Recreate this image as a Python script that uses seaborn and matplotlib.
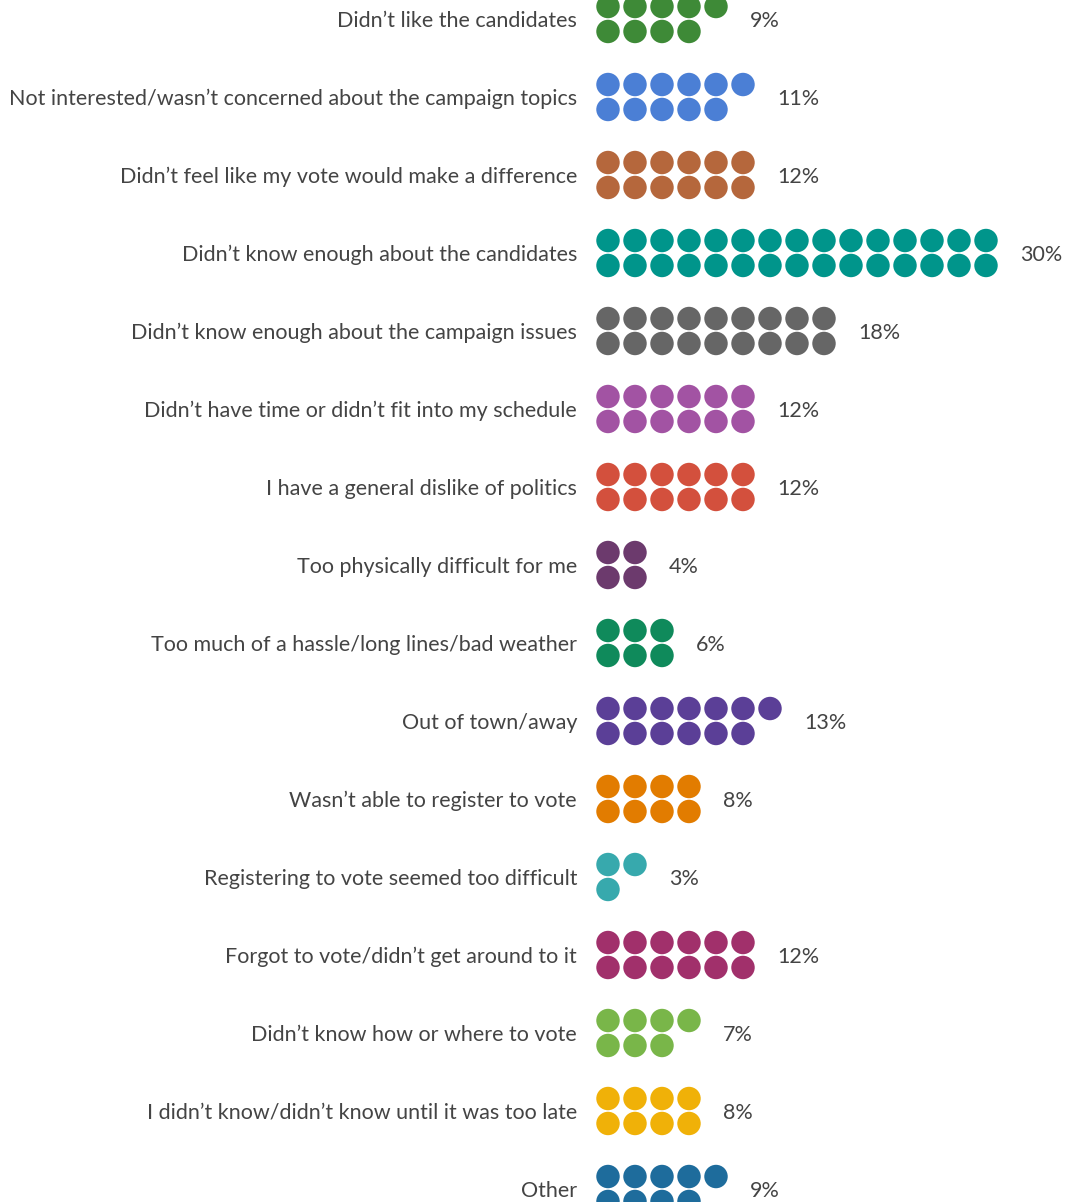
import math
import numpy as np
import pandas as pd
import matplotlib
matplotlib.use("Agg")
import matplotlib.pyplot as plt
import seaborn as sns

# Reasons for not voting and share of respondents (%)
reasons = [
    "Didn\u2019t like the candidates",
    "Not interested/wasn\u2019t concerned about the campaign topics",
    "Didn\u2019t feel like my vote would make a difference",
    "Didn\u2019t know enough about the candidates",
    "Didn\u2019t know enough about the campaign issues",
    "Didn\u2019t have time or didn\u2019t fit into my schedule",
    "I have a general dislike of politics",
    "Too physically difficult for me",
    "Too much of a hassle/long lines/bad weather",
    "Out of town/away",
    "Wasn\u2019t able to register to vote",
    "Registering to vote seemed too difficult",
    "Forgot to vote/didn\u2019t get around to it",
    "Didn\u2019t know how or where to vote",
    "I didn\u2019t know/didn\u2019t know until it was too late",
    "Other",
]
percents = [9, 11, 12, 30, 18, 12, 12, 4, 6, 13, 8, 3, 12, 7, 8, 9]
colors = [
    "#3e8a37", "#4b7fd5", "#b5673c", "#00958b", "#666666", "#a253a3",
    "#d3503d", "#6c3a6d", "#0f8a5b", "#5b3f97", "#e27c00", "#37a9ad",
    "#a1306b", "#79b649", "#f0b108", "#1e6c9c",
]

# One dot per percentage point, stacked in two rows (top row gets the extra dot)
rows = []
for i, (reason, pct) in enumerate(zip(reasons, percents)):
    top = math.ceil(pct / 2)
    for k in range(pct):
        sub = 0 if k < top else 1
        col = k if sub == 0 else k - top
        rows.append({"reason": reason, "col": col,
                     "y": i + (-0.16 if sub == 0 else 0.16)})
dots = pd.DataFrame(rows)

sns.set_theme(style="white")
plt.rcParams["font.family"] = ["Lato", "DejaVu Sans"]

W, H, DPI = 1072, 1202, 100
fig = plt.figure(figsize=(W / DPI, H / DPI), dpi=DPI)
ax = fig.add_axes([0, 0, 1, 1])

x0, dx = 608.0, 27.0   # pixel centre of first dot column, column pitch
y0, dy = 19.0, 78.0    # pixel centre of first category, category pitch

sns.scatterplot(data=dots, x="col", y="y", hue="reason",
                palette=dict(zip(reasons, colors)), s=285,
                linewidth=0, legend=False, ax=ax)

ax.set_xlim((0 - x0) / dx, (W - x0) / dx)
ax.set_ylim((H - y0) / dy, (0 - y0) / dy)
ax.axis("off")

text_color = "#444444"
label_x = (577 - x0) / dx
for i, (reason, pct) in enumerate(zip(reasons, percents)):
    ax.text(label_x, i + 0.02, reason, ha="right", va="center",
            fontsize=15.5, color=text_color)
    last = math.ceil(pct / 2) - 1
    ax.text(last + 34 / dx, i + 0.02, f"{pct}%", ha="left", va="center",
            fontsize=15.5, color=text_color)

fig.savefig("out.png", dpi=DPI, facecolor="white")
